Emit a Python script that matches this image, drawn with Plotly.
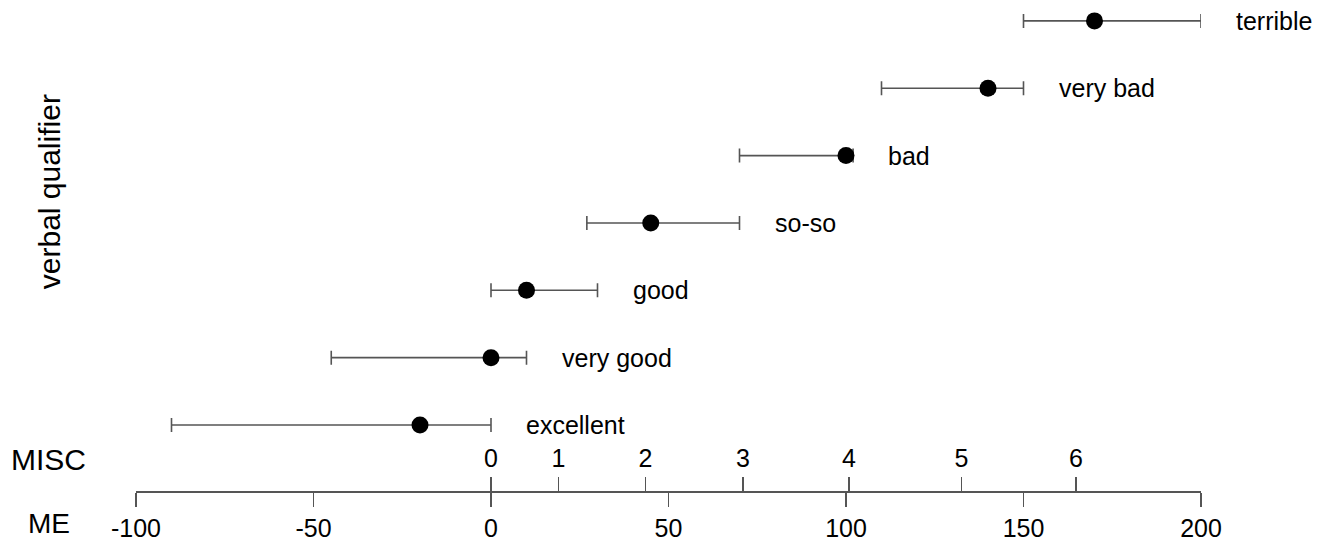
import plotly.graph_objects as go

qualifiers = ["excellent", "very good", "good", "so-so", "bad", "very bad", "terrible"]
me_mean = [-20, 0, 10, 45, 100, 140, 170]
me_low = [-90, -45, 0, 27, 70, 110, 150]
me_high = [0, 10, 30, 70, 102, 150, 200]

me_ticks = [-100, -50, 0, 50, 100, 150, 200]
misc_labels = ["0", "1", "2", "3", "4", "5", "6"]
misc_pos = [0, 19, 43.5, 71, 100.8, 132.5, 164.8]

ypos = list(range(1, len(qualifiers) + 1))
FONT = "Liberation Sans, Arial, sans-serif"

fig = go.Figure()
fig.add_trace(go.Scatter(
    x=me_mean, y=ypos, mode="markers",
    marker=dict(color="black", size=17),
    error_x=dict(type="data", symmetric=False,
                 array=[h - m for h, m in zip(me_high, me_mean)],
                 arrayminus=[m - l for m, l in zip(me_mean, me_low)],
                 color="#555555", thickness=1.6, width=7),
    showlegend=False, hoverinfo="skip", cliponaxis=False,
))
# invisible trace for secondary axis
fig.add_trace(go.Scatter(x=[-100, 200], y=[1, 1], xaxis="x2", mode="markers",
                         marker=dict(opacity=0), showlegend=False, hoverinfo="skip"))

# qualifier labels to the right of each interval
for q, h, y in zip(qualifiers, me_high, ypos):
    fig.add_annotation(x=h, y=y, text=q, showarrow=False, xanchor="left",
                       yanchor="middle", xshift=33,
                       font=dict(size=25, color="black", family=FONT))

fig.add_annotation(xref="paper", yref="paper", x=-0.119, y=0.065, text="MISC",
                   showarrow=False, xanchor="left", yanchor="middle",
                   font=dict(size=30, color="black", family=FONT))
fig.add_annotation(xref="paper", yref="paper", x=-0.103, y=-0.067, text="ME",
                   showarrow=False, xanchor="left", yanchor="middle",
                   font=dict(size=28, color="black", family=FONT))
fig.add_annotation(xref="paper", yref="paper", x=-0.081, y=0.61, text="verbal qualifier",
                   showarrow=False, textangle=-90, xanchor="center", yanchor="middle",
                   font=dict(size=30, color="black", family=FONT))

fig.update_layout(
    width=1326, height=541,
    margin=dict(l=136, r=125, t=0, b=50, autoexpand=False),
    paper_bgcolor="white", plot_bgcolor="white",
    font=dict(family=FONT, color="black"),
    xaxis=dict(range=[-100, 200], tickvals=me_ticks, ticktext=[str(t) for t in me_ticks],
               showline=True, linecolor="#555555", linewidth=1.6,
               ticks="outside", ticklen=14, tickwidth=1.6, tickcolor="#555555",
               showgrid=False, zeroline=False, tickfont=dict(size=25, color="black"),
               fixedrange=True),
    xaxis2=dict(range=[-100, 200], overlaying="x", side="top", anchor="free", position=0,
                tickvals=misc_pos, ticktext=misc_labels,
                ticks="outside", ticklen=14, tickwidth=1.6, tickcolor="#555555",
                showline=False, showgrid=False, zeroline=False,
                tickfont=dict(size=25, color="black")),
    yaxis=dict(range=[0.02, 7.31], visible=False, fixedrange=True),
)

fig.write_html("out.html", config={"displayModeBar": False, "staticPlot": True},
               post_script="document.body.style.margin='0';document.body.style.overflow='hidden';")
